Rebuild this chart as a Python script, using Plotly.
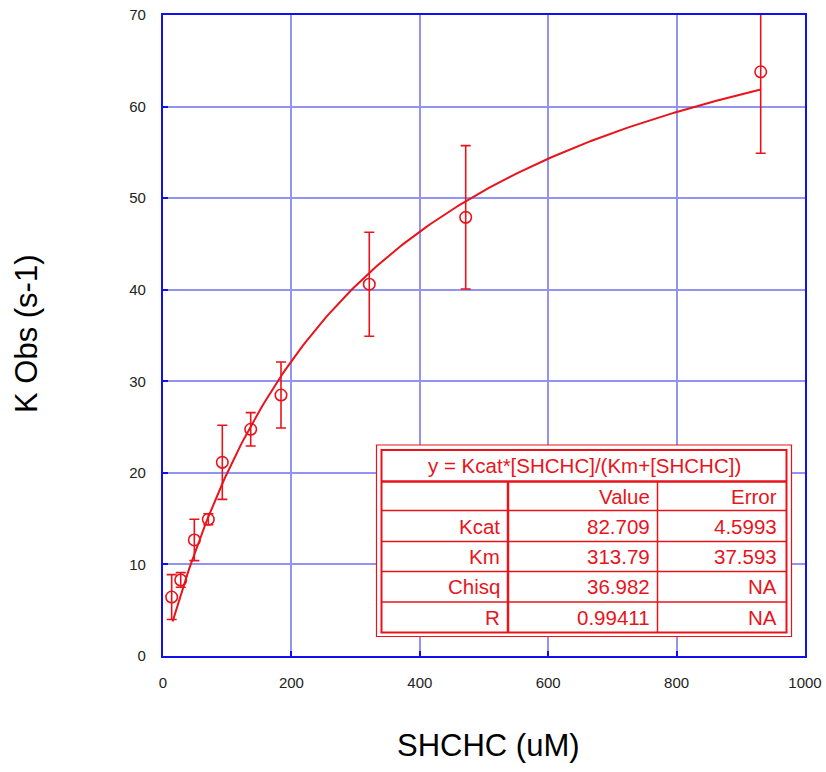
import plotly.graph_objects as go

# ---- data ----
shchc_uM = [13.5, 27.6, 48.8, 70.6, 92.4, 136.6, 183.8, 321.3, 471.5, 931.0]
k_obs = [6.44, 8.3, 12.67, 14.93, 21.15, 24.76, 28.5, 40.6, 47.9, 63.8]
k_err = [2.45, 0.8, 2.26, 0.6, 4.05, 1.82, 3.6, 5.68, 7.83, 8.9]

fit_title = "y = Kcat*[SHCHC]/(Km+[SHCHC])"
param_names = ["Kcat", "Km", "Chisq", "R"]
param_values = ["82.709", "313.79", "36.982", "0.99411"]
param_errors = ["4.5993", "37.593", "NA", "NA"]
kcat = 82.709
km = 313.79

x_ticks = [0, 200, 400, 600, 800, 1000]
y_ticks = [0, 10, 20, 30, 40, 50, 60, 70]

# fitted curve from the table parameters
n = 200
x0, x1 = 15.0, shchc_uM[-1]
fit_x = [x0 + (x1 - x0) * i / (n - 1) for i in range(n)]
fit_y = [kcat * v / (km + v) for v in fit_x]

RED = "#e8141c"
BLUE = "#1010ee"
GRID = "#9393f2"

fig = go.Figure()
fig.add_trace(go.Scatter(x=fit_x, y=fit_y, mode="lines",
                         line=dict(color=RED, width=2), hoverinfo="skip",
                         showlegend=False))
fig.add_trace(go.Scatter(
    x=shchc_uM, y=k_obs, mode="markers",
    marker=dict(symbol="circle-open", size=11.5, color=RED, line=dict(width=1.6, color=RED)),
    error_y=dict(type="data", array=k_err, visible=True, color=RED, thickness=1.6, width=5),
    showlegend=False))

# plot area in pixels: x 163..805, y 15..656
L, R, T, B = 163, 805, 15, 656
W, H = R - L, B - T


def px(x):
    return (x - L) / W


def py(y):
    return (B - y) / H


shapes = []
# table geometry (pixels)
tl_out, tr_out, tt_out, tb_out = 376.5, 791.5, 445, 636.5
tl, tr, tt, tb = 381.5, 786.5, 450, 632.5
row_lines = [481.5, 510.5, 541.5, 571.5, 602]
col_lines = [508, 657.5]

shapes.append(dict(type="rect", xref="paper", yref="paper",
                   x0=px(tl_out), x1=px(tr_out), y0=py(tb_out), y1=py(tt_out),
                   line=dict(color=RED, width=1.2), fillcolor="white", layer="above"))
shapes.append(dict(type="rect", xref="paper", yref="paper",
                   x0=px(tl), x1=px(tr), y0=py(tb), y1=py(tt),
                   line=dict(color=RED, width=2), layer="above"))
for i, yl in enumerate(row_lines):
    shapes.append(dict(type="line", xref="paper", yref="paper",
                       x0=px(tl), x1=px(tr), y0=py(yl), y1=py(yl),
                       line=dict(color=RED, width=2.5 if i == 0 else 1.5), layer="above"))
for j, xl in enumerate(col_lines):
    shapes.append(dict(type="line", xref="paper", yref="paper",
                       x0=px(xl), x1=px(xl), y0=py(tb), y1=py(row_lines[0]),
                       line=dict(color=RED, width=2.5 if j == 0 else 1.5), layer="above"))

annotations = []
font_t = dict(family="Liberation Sans, Arial, sans-serif", size=20.5, color=RED)
annotations.append(dict(xref="paper", yref="paper", x=px((tl + tr) / 2),
                        y=py((tt + row_lines[0]) / 2), text=fit_title, showarrow=False,
                        xanchor="center", yanchor="middle", font=font_t))
row_centers = [(row_lines[i] + (row_lines[i + 1] if i + 1 < len(row_lines) else tb)) / 2
               for i in range(len(row_lines))]
headers = ["", "Value", "Error"]
col_right = [col_lines[0] - 6, col_lines[1] - 6, tr - 8]
for c, txt in enumerate(headers):
    if txt:
        annotations.append(dict(xref="paper", yref="paper", x=px(col_right[c]),
                                y=py(row_centers[0]), text=txt, showarrow=False,
                                xanchor="right", yanchor="middle", font=font_t))
for r in range(len(param_names)):
    for c, txt in enumerate([param_names[r], param_values[r], param_errors[r]]):
        annotations.append(dict(xref="paper", yref="paper", x=px(col_right[c]),
                                y=py(row_centers[r + 1]), text=txt, showarrow=False,
                                xanchor="right", yanchor="middle", font=font_t))

# axis titles
annotations.append(dict(xref="paper", yref="paper", x=px(488), y=py(745), text="SHCHC (uM)",
                        showarrow=False, xanchor="center", yanchor="middle",
                        font=dict(family="Liberation Sans, Arial, sans-serif", size=31, color="black")))
annotations.append(dict(xref="paper", yref="paper", x=px(26), y=py(334), text="K Obs (s-1)",
                        showarrow=False, xanchor="center", yanchor="middle", textangle=-90,
                        font=dict(family="Liberation Sans, Arial, sans-serif", size=31, color="black")))

tickfont = dict(family="Liberation Sans, Arial, sans-serif", size=15, color="#222222")
fig.update_layout(
    width=826, height=772,
    margin=dict(l=L, r=826 - R, t=T, b=772 - B),
    paper_bgcolor="white", plot_bgcolor="white",
    shapes=shapes, annotations=annotations,
    xaxis=dict(range=[0, 1000], tickvals=x_ticks, ticktext=[str(v) for v in x_ticks],
               showgrid=True, gridcolor=GRID, gridwidth=1.8, zeroline=False,
               showline=True, linecolor=BLUE, linewidth=2.2, mirror=True,
               ticks="inside", ticklen=5, tickcolor=BLUE, tickwidth=1.5,
               tickfont=tickfont, ticklabelstandoff=12, automargin=False),
    yaxis=dict(range=[0, 70], tickvals=y_ticks, ticktext=[str(v) for v in y_ticks],
               showgrid=True, gridcolor=GRID, gridwidth=1.8, zeroline=False,
               showline=True, linecolor=BLUE, linewidth=2.2, mirror=True,
               ticks="inside", ticklen=5, tickcolor=BLUE, tickwidth=1.5,
               tickfont=tickfont, ticklabelstandoff=12, automargin=False),
)

fig.write_html("out.html", config={"displayModeBar": False},
               post_script="document.body.style.margin='0';document.body.style.overflow='hidden';")
